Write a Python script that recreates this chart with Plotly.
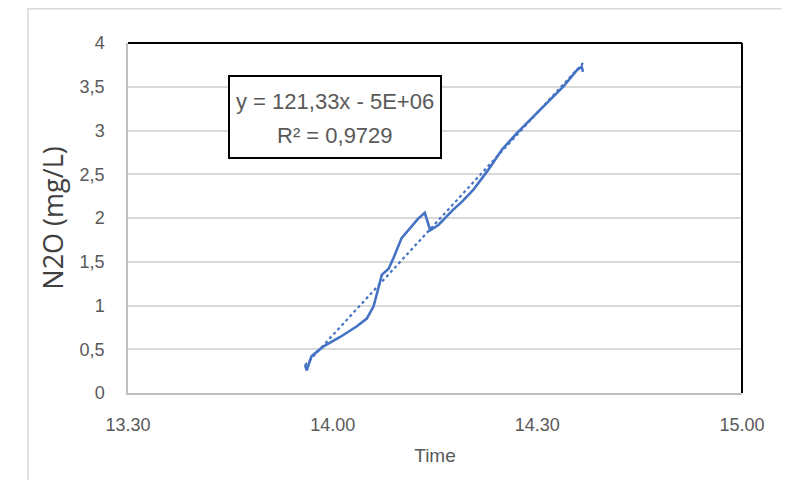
import numpy as np
import pandas as pd
import plotly.graph_objects as go

# ---- data ----
DAY = "2024-01-01 "
times = ["13:55:57", "13:56:12", "13:56:54", "13:57:24", "13:58:36", "14:01:06",
         "14:03:30", "14:05:00", "14:06:00", "14:06:30", "14:07:12", "14:08:12",
         "14:08:54", "14:10:06", "14:11:30", "14:12:30", "14:13:30", "14:14:18",
         "14:15:30", "14:17:36", "14:19:00", "14:20:36", "14:22:48", "14:24:48",
         "14:27:00", "14:28:54", "14:31:24", "14:33:48", "14:35:48", "14:36:30",
         "14:36:42"]
n2o = [0.32, 0.26, 0.42, 0.45, 0.53, 0.64,
       0.76, 0.85, 0.99, 1.14, 1.35, 1.42,
       1.54, 1.77, 1.90, 1.99, 2.06, 1.86,
       1.92, 2.09, 2.19, 2.32, 2.55, 2.78,
       2.97, 3.12, 3.31, 3.50, 3.69, 3.73,
       3.67]
y_ticks = [0, 0.5, 1, 1.5, 2, 2.5, 3, 3.5, 4]
y_tick_labels = ["0", "0,5", "1", "1,5", "2", "2,5", "3", "3,5", "4"]
x_ticks = ["13:30", "14:00", "14:30", "15:00"]
x_tick_labels = ["13.30", "14.00", "14.30", "15.00"]
eq_text = "y = 121,33x - 5E+06"
r2_text = "R² = 0,9729"

t = pd.to_datetime([DAY + s for s in times])
xt = pd.to_datetime([DAY + s for s in x_ticks])

# linear trend (least squares on time in minutes)
mins = (t - t[0]).total_seconds().values / 60.0
coef = np.polyfit(mins, np.array(n2o), 1)
trend_t = [t[0], t[-1]]
trend_y = list(np.polyval(coef, [mins[0], mins[-1]]))

BLUE = "#4472C4"
GRAY = "#595959"
GRID = "#D9D9D9"

# plot area in window pixels: x 128..742, y 43..393 (page body has 8px margin)
PX0, PW, PY1, PH = 128, 614, 393, 350


def px(x):
    return (x - PX0) / PW


def py(y):
    return (PY1 - y) / PH


fig = go.Figure()
fig.add_trace(go.Scatter(x=t, y=n2o, mode="lines",
                         line=dict(color=BLUE, width=2.6), showlegend=False))
fig.add_trace(go.Scatter(x=trend_t, y=trend_y, mode="lines",
                         line=dict(color=BLUE, width=2.2, dash="dot"),
                         showlegend=False))

fig.update_layout(
    width=782, height=472,
    margin=dict(l=120, r=48, t=35, b=87),
    paper_bgcolor="white", plot_bgcolor="white",
    font=dict(family="Liberation Sans, Arial, sans-serif", color=GRAY),
    xaxis=dict(type="date", range=[xt[0], xt[-1]], tickvals=list(xt),
               ticktext=x_tick_labels, showgrid=False, zeroline=False,
               showline=True, linecolor="#BFBFBF", linewidth=1.5,
               ticks="", ticklabelstandoff=15, automargin=False,
               tickfont=dict(size=18, color=GRAY),
               title=dict(text="Time", font=dict(size=19, color=GRAY), standoff=14)),
    yaxis=dict(range=[0, 4], tickvals=y_ticks, ticktext=y_tick_labels,
               showgrid=True, gridcolor=GRID, gridwidth=1.5, zeroline=False,
               showline=True, linecolor="#BFBFBF", linewidth=1.5,
               ticks="", ticklabelstandoff=18, automargin=False,
               tickfont=dict(size=18, color=GRAY),
               title=dict(text="N2O (mg/L)",
                          font=dict(family="Open Sans, Liberation Sans, sans-serif",
                                    size=27, color="#404040"),
                          standoff=8)),
    shapes=[
        # outer chart border
        dict(type="rect", xref="paper", yref="paper",
             x0=px(28), x1=px(785), y0=py(484), y1=py(8.8),
             line=dict(color="#D9D9D9", width=1.5), layer="below"),
        # plot border top and right (black)
        dict(type="line", xref="paper", yref="paper", x0=0, x1=1, y0=1, y1=1,
             line=dict(color="black", width=2)),
        dict(type="line", xref="paper", yref="paper", x0=1, x1=1, y0=0, y1=1,
             line=dict(color="black", width=2)),
        # equation box
        dict(type="rect", xref="paper", yref="paper",
             x0=px(229), x1=px(441), y0=py(158), y1=py(76),
             fillcolor="white", line=dict(color="black", width=2), layer="above"),
    ],
    annotations=[
        dict(xref="paper", yref="paper", x=px(335), y=py(101),
             text=eq_text, showarrow=False, xanchor="center", yanchor="middle",
             font=dict(size=22, color=GRAY)),
        dict(xref="paper", yref="paper", x=px(335), y=py(136),
             text=r2_text, showarrow=False, xanchor="center", yanchor="middle",
             font=dict(size=22, color=GRAY)),
    ],
)

fig.write_html("out.html")
